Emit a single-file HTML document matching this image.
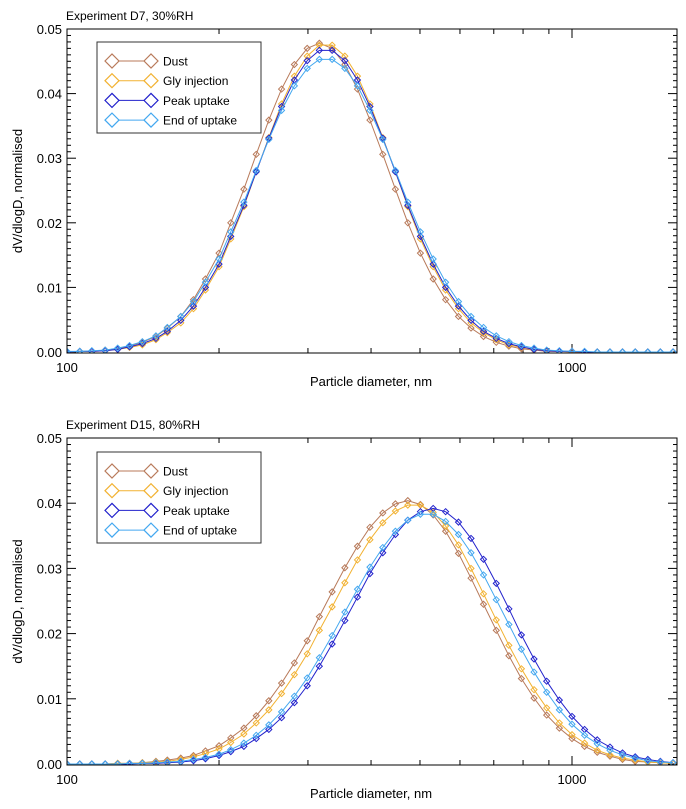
<!DOCTYPE html>
<html><head><meta charset="utf-8"><style>
body{margin:0;background:#fff;width:686px;height:809px;overflow:hidden}
svg{display:block;font-family:"Liberation Sans",Arial,sans-serif}
</style></head><body>
<svg id="chart" width="686" height="809" viewBox="0 0 686 809"></svg>
<script>
const diameters=[100,106,112,119,126,133,141,150,158,168,178,188,200,211,224,237,251,266,282,299,316,335,355,376,398,422,447,473,501,531,562,596,631,668,708,750,794,841,891,944,1000,1059,1122,1189,1259,1334,1413,1496,1585];
const seriesNames=["Dust","Gly injection","Peak uptake","End of uptake"];
const p1Dust=[0,.0001,.0001,.0003,.0005,.0009,.0015,.0024,.0037,.0055,.0081,.0113,.0153,.0200,.0252,.0306,.0359,.0407,.0445,.0470,.0478,.0470,.0445,.0407,.0359,.0306,.0252,.0200,.0153,.0113,.0081,.0055,.0037,.0024,.0015,.0009,.0005,.0003,.0001,.0001,0,0,0,0,0,0,0,0,0];
const p1Gly=[0,.0001,.0001,.0002,.0004,.0007,.0011,.0019,.0030,.0045,.0067,.0096,.0132,.0175,.0225,.0279,.0332,.0384,.0427,.0458,.0475,.0475,.0458,.0427,.0384,.0332,.0279,.0225,.0175,.0132,.0096,.0067,.0045,.0030,.0019,.0011,.0007,.0004,.0002,.0001,.0001,0,0,0,0,0,0,0,0];
const p1Peak=[0,.0001,.0001,.0002,.0004,.0008,.0013,.0021,.0032,.0049,.0071,.0100,.0136,.0179,.0227,.0279,.0331,.0380,.0421,.0451,.0467,.0467,.0451,.0421,.0380,.0331,.0279,.0227,.0179,.0136,.0100,.0071,.0049,.0032,.0021,.0013,.0008,.0004,.0002,.0001,.0001,0,0,0,0,0,0,0,0];
const p1End=[.0001,.0001,.0002,.0003,.0006,.0010,.0016,.0025,.0038,.0055,.0078,.0108,.0144,.0186,.0232,.0281,.0329,.0374,.0412,.0439,.0453,.0453,.0439,.0412,.0374,.0329,.0281,.0232,.0186,.0144,.0108,.0078,.0055,.0038,.0025,.0016,.0010,.0006,.0003,.0002,.0001,.0001,0,0,0,0,0,0,0];
const p2Dust=[0,0,0,0,.0001,.0001,.0002,.0004,.0006,.0009,.0013,.0020,.0028,.0040,.0055,.0074,.0097,.0124,.0155,.0189,.0226,.0264,.0301,.0334,.0363,.0385,.0399,.0404,.0398,.0382,.0357,.0323,.0285,.0245,.0205,.0166,.0131,.0101,.0075,.0055,.0039,.0027,.0018,.0012,.0007,.0004,.0003,.0002,.0001];
const p2Gly=[0,0,0,0,.0001,.0001,.0002,.0003,.0004,.0007,.0011,.0016,.0023,.0033,.0046,.0063,.0083,.0108,.0137,.0169,.0205,.0241,.0278,.0313,.0344,.0370,.0388,.0397,.0397,.0386,.0365,.0336,.0300,.0261,.0221,.0182,.0146,.0114,.0086,.0063,.0045,.0032,.0021,.0014,.0009,.0006,.0003,.0002,.0001];
const p2Peak=[0,0,0,0,0,0,.0001,.0001,.0002,.0003,.0005,.0008,.0013,.0019,.0027,.0039,.0053,.0071,.0094,.0120,.0150,.0184,.0220,.0256,.0292,.0324,.0352,.0374,.0387,.0392,.0387,.0371,.0346,.0314,.0277,.0238,.0198,.0161,.0127,.0098,.0073,.0053,.0037,.0026,.0017,.0011,.0007,.0004,.0002];
const p2End=[0,0,0,0,0,.0001,.0001,.0002,.0003,.0004,.0007,.0010,.0015,.0022,.0032,.0044,.0060,.0080,.0104,.0132,.0163,.0197,.0233,.0268,.0302,.0332,.0357,.0374,.0383,.0383,.0372,.0352,.0324,.0290,.0252,.0214,.0176,.0141,.0110,.0083,.0061,.0044,.0031,.0021,.0014,.0009,.0005,.0003,.0002];
const yTickLabels=["0.00","0.01","0.02","0.03","0.04","0.05"];
const xTickLabels=["100","1000"];
const colors=["#b87a5a","#f2b232","#2222cc","#44a8f0"];

const NS="http://www.w3.org/2000/svg";
const svg=document.getElementById("chart");
function mk(tag,attrs,parent){const e=document.createElementNS(NS,tag);for(const k in attrs)e.setAttribute(k,attrs[k]);(parent||svg).appendChild(e);return e;}

function drawPanel(cfg){
  const g=mk("g",{});
  
  
  const x0=67,x1=677,dec=505,yTop=cfg.yTop,yZero=cfg.yZero,yBot=cfg.yBot;
  const xs=d=>x0+Math.log10(d/100)*dec;
  const ys=v=>yZero-(v/0.05)*(yZero-yTop);
  const t=mk("text",{x:66,y:yTop-9,"font-size":12,fill:"#000"},g);t.textContent=cfg.title;
  
  
  for(let k=0;k<=50;k++){
    const v=k*0.001,y=ys(v),len=k%10===0?9:4;
    mk("line",{x1:x0,x2:x0+len,y1:y,y2:y,stroke:"#000","stroke-width":1},g);
    mk("line",{x1:x1,x2:x1-len,y1:y,y2:y,stroke:"#000","stroke-width":1},g);
  }
  yTickLabels.forEach((lab,i)=>{
    const tt=mk("text",{x:x0-5,y:ys(i*0.01)+5,"font-size":13,"text-anchor":"end"},g);tt.textContent=lab;
    
    
  });
  [200,300,400,500,600,700,800,900,1000].forEach(d=>{
    const x=xs(d),len=d===1000?9:5;
    mk("line",{x1:x,x2:x,y1:yBot,y2:yBot-len,stroke:"#000"},g);
    mk("line",{x1:x,x2:x,y1:yTop,y2:yTop+len,stroke:"#000"},g);
  });
  xTickLabels.forEach(lab=>{
    const tt=mk("text",{x:xs(+lab),y:yBot+19,"font-size":13,"text-anchor":"middle"},g);tt.textContent=lab;
    
    
  });
  const xl=mk("text",{x:371,y:yBot+33,"font-size":13,"text-anchor":"middle"},g);xl.textContent="Particle diameter, nm";
  
  
  const yc=(yTop+yBot)/2;
  const yl=mk("text",{x:22,y:yc,"font-size":13,"text-anchor":"middle",transform:`rotate(-90 22 ${yc})`},g);yl.textContent="dV/dlogD, normalised";
  
  
  const cid="clip"+cfg.yTop;
  const cp=mk("clipPath",{id:cid},g);mk("rect",{x:x0,y:yTop,width:x1-x0,height:yBot-yTop},cp);
  const sg=mk("g",{"clip-path":`url(#${cid})`},g);
  cfg.series.forEach((vals,si)=>{
    const pts=vals.map((v,i)=>[xs(diameters[i]),ys(v)]);
    const pl=mk("polyline",{points:pts.map(p=>p.join(",")).join(" "),fill:"none",stroke:colors[si],"stroke-width":1},sg);
    
    
    pts.forEach(p=>{
      const m=mk("path",{d:`M${p[0]-3},${p[1]}L${p[0]},${p[1]-3}L${p[0]+3},${p[1]}L${p[0]},${p[1]+3}Z`,fill:"none",stroke:colors[si],"stroke-width":1},sg);
      
      
    });
  });
  mk("rect",{x:x0,y:yTop,width:x1-x0,height:yBot-yTop,fill:"none",stroke:"#000","stroke-width":1},g);
  const lg=mk("g",{},g);
  
  
  const ly=cfg.legTop;
  mk("rect",{x:97,y:ly,width:164,height:91,fill:"#fff",stroke:"#333"},lg);
  seriesNames.forEach((n,i)=>{
    const e=mk("g",{},lg);
    
    
    const y=ly+19+i*19.7;
    mk("line",{x1:112,x2:151,y1:y,y2:y,stroke:colors[i]},e);
    [112,151].forEach(cx=>mk("path",{d:`M${cx-7},${y}L${cx},${y-7}L${cx+7},${y}L${cx},${y+7}Z`,fill:"#fff",stroke:colors[i],"stroke-width":1.2},e));
    const tx=mk("text",{x:163,y:y+4.5,"font-size":12},e);tx.textContent=n;
  });
}
drawPanel({name:"panel-d7",title:"Experiment D7, 30%RH",yTop:29,yZero:352,yBot:353,legTop:42,series:[p1Dust,p1Gly,p1Peak,p1End]});
drawPanel({name:"panel-d15",title:"Experiment D15, 80%RH",yTop:438,yZero:764,yBot:765,legTop:452,series:[p2Dust,p2Gly,p2Peak,p2End]});
</script>
</body></html>
